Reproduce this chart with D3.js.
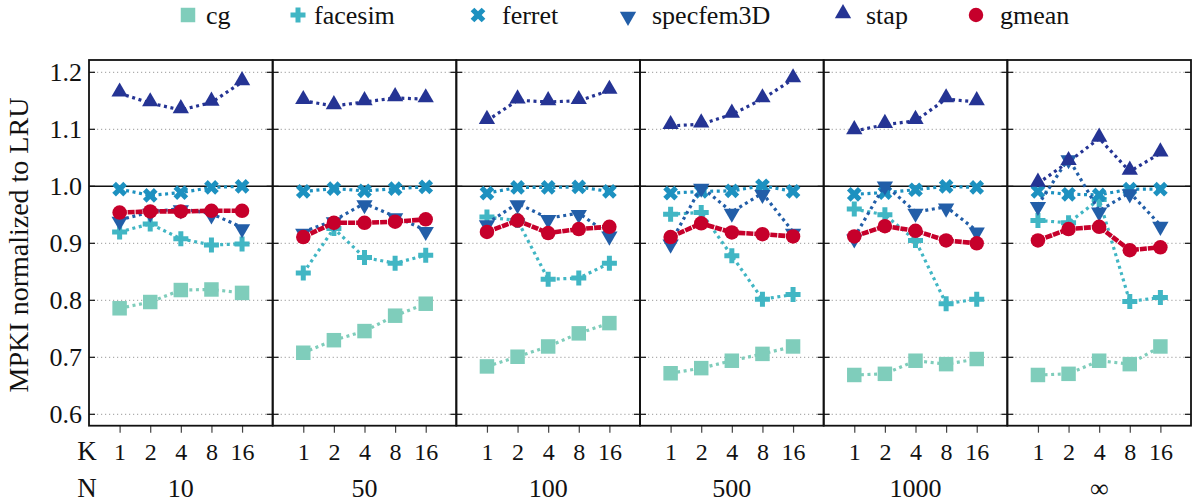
<!DOCTYPE html>
<html><head><meta charset="utf-8">
<script src="https://cdn.jsdelivr.net/npm/d3@7"></script>
<style>body{margin:0;background:#fff}
svg, svg text{font-family:"Liberation Serif","Times New Roman","DejaVu Serif","Noto Serif",Times,serif !important}</style>
</head><body><svg id="c" width="1192" height="504" font-family="Liberation Serif, Times New Roman, DejaVu Serif, serif"></svg>
<script>
// ---- data ----
const nValues = ["10", "50", "100", "500", "1000", "\u221e"];
const kValues = ["1", "2", "4", "8", "16"];
const yTicks = [0.6, 0.7, 0.8, 0.9, 1.0, 1.1, 1.2];
const seriesNames = ["cg", "facesim", "ferret", "specfem3D", "stap", "gmean"];
const seriesColors = ["#7fcdbb", "#41b6c4", "#1d91c0", "#225ea8", "#253494", "#c6002b"];
const cg = [
  [0.786, 0.797, 0.818, 0.819, 0.813],
  [0.708, 0.730, 0.746, 0.773, 0.794],
  [0.684, 0.701, 0.719, 0.742, 0.760],
  [0.672, 0.681, 0.694, 0.706, 0.719],
  [0.669, 0.671, 0.694, 0.688, 0.697],
  [0.669, 0.671, 0.694, 0.688, 0.719]];
const facesim = [
  [0.920, 0.934, 0.908, 0.897, 0.899],
  [0.848, 0.926, 0.875, 0.865, 0.879],
  [0.946, 0.940, 0.837, 0.839, 0.865],
  [0.951, 0.954, 0.878, 0.802, 0.810],
  [0.960, 0.950, 0.905, 0.794, 0.802],
  [0.940, 0.936, 0.977, 0.798, 0.805]];
const ferret = [
  [0.995, 0.984, 0.989, 0.998, 1.000],
  [0.991, 0.996, 0.992, 0.996, 0.999],
  [0.988, 0.998, 0.998, 0.999, 0.991],
  [0.988, 0.991, 0.992, 1.001, 0.991],
  [0.986, 0.989, 0.994, 1.000, 0.998],
  [0.991, 0.986, 0.985, 0.995, 0.995]];
const specfem3D = [
  [0.941, 0.955, 0.961, 0.952, 0.928],
  [0.920, 0.940, 0.970, 0.947, 0.923],
  [0.935, 0.970, 0.944, 0.953, 0.915],
  [0.901, 0.999, 0.955, 0.988, 0.920],
  [0.910, 1.003, 0.955, 0.964, 0.922],
  [0.967, 1.049, 0.957, 0.989, 0.932]];
const stap = [
  [1.163, 1.146, 1.134, 1.147, 1.183],
  [1.150, 1.141, 1.148, 1.155, 1.153],
  [1.115, 1.151, 1.148, 1.150, 1.168],
  [1.106, 1.109, 1.126, 1.153, 1.188],
  [1.097, 1.108, 1.115, 1.153, 1.148],
  [1.005, 1.043, 1.084, 1.026, 1.058]];
const gmean = [
  [0.954, 0.956, 0.956, 0.957, 0.957],
  [0.911, 0.936, 0.936, 0.938, 0.942],
  [0.920, 0.940, 0.918, 0.925, 0.929],
  [0.911, 0.935, 0.919, 0.916, 0.912],
  [0.912, 0.930, 0.922, 0.905, 0.900],
  [0.905, 0.925, 0.929, 0.888, 0.893]];
const seriesData = [cg, facesim, ferret, specfem3D, stap, gmean];

// ---- layout ----
const FF = "Liberation Serif, Times New Roman, DejaVu Serif, serif";
const svg = d3.select("#c");
const L = 89, R = 1191, T = 60, B = 425.7;
const nP = nValues.length;
const pw = (R - L) / nP;
const y = d3.scaleLinear().domain([0.58, 1.2216]).range([B, T]);
const panelX = d3.scaleLinear().domain([0, nP]).range([L, R]);
const kx = d3.scalePoint().domain(["", ...kValues, " "]).range([0, pw]);

const symbols = [
  d3.symbol().type(d3.symbolSquare).size(210)(),
  d3.symbol().type(d3.symbolCross).size(125)(),
  d3.symbol().type(d3.symbolCross).size(135)(),
  d3.symbol().type(d3.symbolTriangle).size(115)(),
  d3.symbol().type(d3.symbolTriangle).size(115)(),
  d3.symbol().type(d3.symbolCircle).size(165)()
];
const symRot = [0, 0, 45, 180, 0, 0];
const symDy = [0, 0, 0, 1.5, -1.5, 0];

// grid
for (let p = 0; p < nP; p++) {
  const g = svg.append("g").attr("transform", `translate(${panelX(p)},0)`);
  g.selectAll("line.grid").data(yTicks.filter(v => v !== 1.0)).join("line")
    .attr("x1", 0).attr("x2", pw).attr("y1", d => y(d)).attr("y2", d => y(d))
    .attr("stroke", "#999").attr("stroke-width", 1).attr("stroke-dasharray", "1.2,2.8");
}
svg.append("line").attr("x1", L).attr("x2", R).attr("y1", y(1.0)).attr("y2", y(1.0))
  .attr("stroke", "#111").attr("stroke-width", 1.4);

for (let p = 0; p < nP; p++) {
  const x0 = panelX(p);
  const g = svg.append("g").attr("transform", `translate(${x0},0)`);
  g.selectAll("line.tl").data(yTicks).join("line")
    .attr("x1", 0).attr("x2", 6).attr("y1", d => y(d)).attr("y2", d => y(d))
    .attr("stroke", "#111").attr("stroke-width", 1.2);
  g.selectAll("line.tr").data(yTicks).join("line")
    .attr("x1", pw - 6).attr("x2", pw).attr("y1", d => y(d)).attr("y2", d => y(d))
    .attr("stroke", "#111").attr("stroke-width", 1.2);
  const xa = d3.axisBottom(kx).tickValues(kValues).tickSize(7).tickPadding(10);
  const ax = g.append("g").attr("transform", `translate(0,${B})`).call(xa)
    .attr("font-family", FF);
  ax.select(".domain").remove();
  ax.selectAll(".tick line").attr("stroke", "#444").attr("stroke-width", 1.2);
  ax.selectAll(".tick text").attr("font-size", 24).attr("fill", "#111")
    .attr("font-family", FF).attr("dy", "0.72em");
  g.append("text").attr("x", pw / 2).attr("y", 497).attr("text-anchor", "middle")
    .attr("font-family", FF).attr("font-size", 26).attr("fill", "#111").text(nValues[p]);
}

const ya = d3.axisLeft(y).tickValues(yTicks).tickSize(0).tickPadding(7).tickFormat(d3.format(".1f"));
const yg = svg.append("g").attr("transform", `translate(${L},0)`).call(ya).attr("font-family", FF);
yg.select(".domain").remove();
yg.selectAll(".tick text").attr("font-size", 26).attr("fill", "#111").attr("font-family", FF);

svg.append("text").attr("transform", `translate(28,${245}) rotate(-90)`)
  .attr("text-anchor", "middle").attr("font-size", 28).attr("fill", "#111")
  .attr("font-family", FF).text("MPKI normalized to LRU");
svg.append("text").attr("x", 87).attr("y", 460).attr("text-anchor", "middle")
  .attr("font-family", FF).attr("font-size", 27).attr("fill", "#111").text("K");
svg.append("text").attr("x", 87).attr("y", 497).attr("text-anchor", "middle")
  .attr("font-family", FF).attr("font-size", 27).attr("fill", "#111").text("N");

// series
seriesData.forEach((sd, si) => {
  const isG = si === seriesData.length - 1;
  for (let p = 0; p < nP; p++) {
    const x0 = panelX(p);
    const g = svg.append("g").attr("transform", `translate(${x0},0)`);
    const pts = sd[p].map((v, i) => [kx(kValues[i]), y(v)]);
    g.append("path").attr("d", d3.line()(pts)).attr("fill", "none")
      .attr("stroke", seriesColors[si])
      .attr("stroke-width", isG ? 4.6 : 3.2)
      .attr("stroke-dasharray", isG ? "7,1" : "3,3.6");
    g.selectAll("path.m").data(pts).join("path")
      .attr("d", symbols[si])
      .attr("transform", d => `translate(${d[0]},${d[1] + symDy[si]}) rotate(${symRot[si]})`)
      .attr("fill", seriesColors[si]);
  }
});

for (let p = 0; p < nP; p++) {
  svg.append("rect").attr("x", panelX(p)).attr("y", T).attr("width", pw).attr("height", B - T)
    .attr("fill", "none").attr("stroke", "#111").attr("stroke-width", 1.8);
}

// legend
const legMarkX = [188, 298, 478, 628, 843, 976];
const legTextX = [206, 314, 502, 652, 866, 1000];
seriesNames.forEach((nm, i) => {
  svg.append("path").attr("d", symbols[i])
    .attr("transform", `translate(${legMarkX[i]},${15 + symDy[i]}) rotate(${symRot[i]})`)
    .attr("fill", seriesColors[i]);
  svg.append("text").attr("x", legTextX[i]).attr("y", 24).attr("font-size", 26)
    .attr("font-family", FF).attr("fill", "#111").text(nm);
});
</script></body></html>
